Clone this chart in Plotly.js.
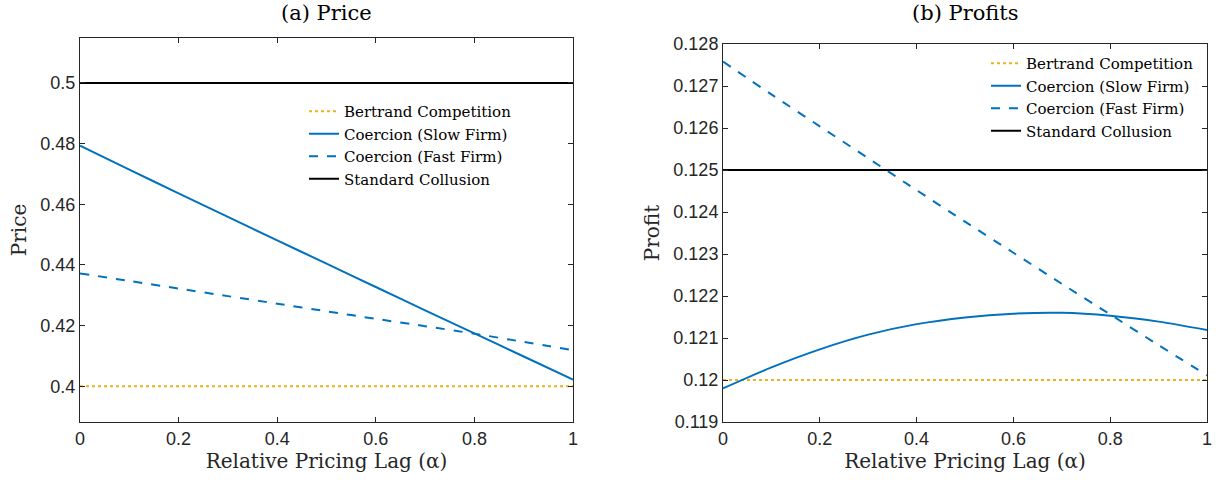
<!DOCTYPE html>
<html>
<head>
<meta charset="utf-8">
<script src="https://cdn.plot.ly/plotly-3.0.1.min.js"></script>
<style>html,body{margin:0;padding:0;background:#fff;}#chart{width:1222px;height:483px;}</style>
</head>
<body>
<div id="chart"></div>
<script>
const alpha = [0, 0.1, 0.2, 0.3, 0.4, 0.5, 0.6, 0.7, 0.8, 0.9, 1];
const priceSlow = [0.4793, 0.4714, 0.4636, 0.4558, 0.4481, 0.4404, 0.4327, 0.4250, 0.4174, 0.4098, 0.4022];
const priceFast = [0.4372, 0.4347, 0.4322, 0.4297, 0.4272, 0.4247, 0.4222, 0.4198, 0.4173, 0.4146, 0.4119];
const profitSlow = [0.11980, 0.12030, 0.12073, 0.12108, 0.12133, 0.12149, 0.12158, 0.12160, 0.12153, 0.12139, 0.12119];
const profitFast = [0.12758, 0.12680, 0.12604, 0.12528, 0.12452, 0.12377, 0.12303, 0.12229, 0.12156, 0.12083, 0.12011];
const lineX = [0, 1];
const bertrandPrice = [0.4, 0.4];
const collusionPrice = [0.5, 0.5];
const bertrandProfit = [0.12, 0.12];
const collusionProfit = [0.125, 0.125];
const names = ['Bertrand Competition', 'Coercion (Slow Firm)', 'Coercion (Fast Firm)', 'Standard Collusion'];
const xTicks = [0, 0.2, 0.4, 0.6, 0.8, 1];
const xTickText = ['0', '0.2', '0.4', '0.6', '0.8', '1'];
const priceTicks = [0.4, 0.42, 0.44, 0.46, 0.48, 0.5];
const priceTickText = ['0.4', '0.42', '0.44', '0.46', '0.48', '0.5'];
const profitTicks = [0.119, 0.12, 0.121, 0.122, 0.123, 0.124, 0.125, 0.126, 0.127, 0.128];
const profitTickText = ['0.119', '0.12', '0.121', '0.122', '0.123', '0.124', '0.125', '0.126', '0.127', '0.128'];

const BLUE = '#0072BD', ORANGE = '#EDB120', BLACK = '#000000';
const serif = 'DejaVu Serif, serif';
const sans = 'Liberation Sans, Arial, sans-serif';

function mk(x, y, name, color, dash, xa, ya, leg) {
  return {x: x, y: y, name: name, type: 'scatter', mode: 'lines',
    line: {color: color, width: 2, dash: dash, shape: 'spline', smoothing: 0.8}, xaxis: xa, yaxis: ya, legend: leg, hoverinfo: 'skip'};
}

const data = [
  mk(lineX, bertrandPrice, names[0], ORANGE, 'dot', 'x', 'y', 'legend'),
  mk(alpha, priceSlow, names[1], BLUE, 'solid', 'x', 'y', 'legend'),
  mk(alpha, priceFast, names[2], BLUE, 'dash', 'x', 'y', 'legend'),
  mk(lineX, collusionPrice, names[3], BLACK, 'solid', 'x', 'y', 'legend'),
  mk(lineX, bertrandProfit, names[0], ORANGE, 'dot', 'x2', 'y2', 'legend2'),
  mk(alpha, profitSlow, names[1], BLUE, 'solid', 'x2', 'y2', 'legend2'),
  mk(alpha, profitFast, names[2], BLUE, 'dash', 'x2', 'y2', 'legend2'),
  mk(lineX, collusionProfit, names[3], BLACK, 'solid', 'x2', 'y2', 'legend2')
];

const axCommon = {
  showline: true, linecolor: '#262626', linewidth: 1, mirror: 'ticks',
  ticks: 'inside', ticklen: 5, tickcolor: '#262626', tickwidth: 1,
  showgrid: false, zeroline: false, fixedrange: true,
  tickfont: {family: sans, size: 18, color: '#262626'}
};
const axTitleFont = {family: serif, size: 20, color: '#262626'};

const layout = {
  width: 1222, height: 483,
  margin: {l: 0, r: 0, t: 0, b: 0},
  paper_bgcolor: '#ffffff', plot_bgcolor: '#ffffff',
  showlegend: true,
  xaxis: Object.assign({}, axCommon, {domain: [80/1222, 573/1222], range: [0, 1], tickvals: xTicks, ticktext: xTickText, anchor: 'y',
    title: {text: 'Relative Pricing Lag (α)', font: axTitleFont, standoff: 6}}),
  yaxis: Object.assign({}, axCommon, {domain: [1-422/483, 1-38/483], range: [0.3882, 0.5148], tickvals: priceTicks, ticktext: priceTickText, anchor: 'x',
    title: {text: 'Price', font: axTitleFont, standoff: 8}}),
  xaxis2: Object.assign({}, axCommon, {domain: [723/1222, 1207/1222], range: [0, 1], tickvals: xTicks, ticktext: xTickText, anchor: 'y2',
    title: {text: 'Relative Pricing Lag (α)', font: axTitleFont, standoff: 6}}),
  yaxis2: Object.assign({}, axCommon, {domain: [1-422/483, 1-44/483], range: [0.119, 0.128], tickvals: profitTicks, ticktext: profitTickText, anchor: 'x2',
    title: {text: 'Profit', font: axTitleFont, standoff: 8}}),
  legend: {x: 304/1222, y: 1-95/483, xanchor: 'left', yanchor: 'top', bgcolor: 'rgba(255,255,255,0)', borderwidth: 0,
    font: {family: serif, size: 15, color: '#000'}, tracegroupgap: 0, itemwidth: 30},
  legend2: {x: 986/1222, y: 1-47/483, xanchor: 'left', yanchor: 'top', bgcolor: 'rgba(255,255,255,0)', borderwidth: 0,
    font: {family: serif, size: 15, color: '#000'}, tracegroupgap: 0, itemwidth: 30},
  annotations: [
    {text: '(a) Price', xref: 'paper', yref: 'paper', x: 326/1222, y: 1-13/483, xanchor: 'center', yanchor: 'middle', showarrow: false,
      font: {family: serif, size: 21, color: '#000'}},
    {text: '(b) Profits', xref: 'paper', yref: 'paper', x: 965/1222, y: 1-13/483, xanchor: 'center', yanchor: 'middle', showarrow: false,
      font: {family: serif, size: 21, color: '#000'}}
  ]
};

Plotly.newPlot('chart', data, layout, {displayModeBar: false, staticPlot: true});
</script>
</body>
</html>
